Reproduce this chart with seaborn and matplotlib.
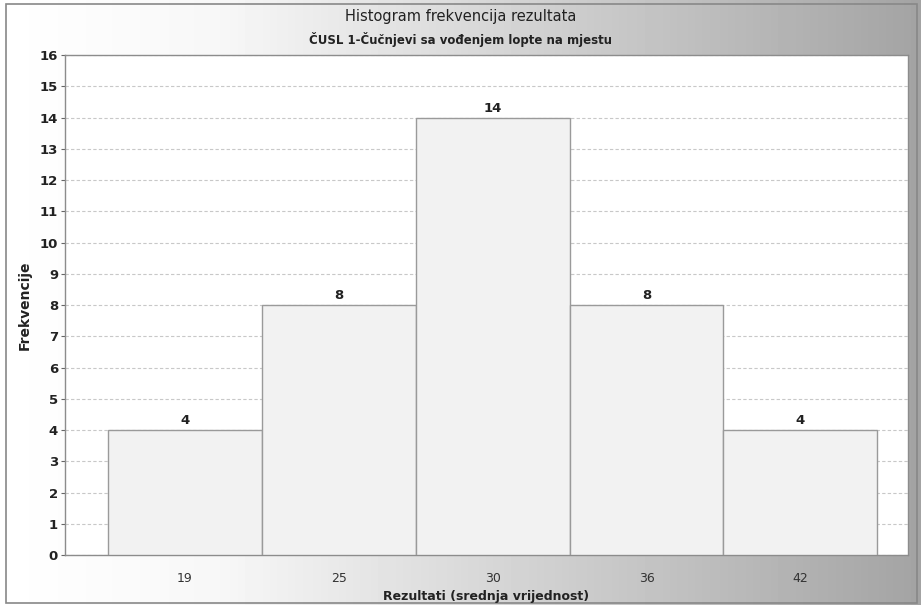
import numpy as np
import pandas as pd
import matplotlib
matplotlib.use("Agg")
import matplotlib.pyplot as plt
import seaborn as sns
from matplotlib.patches import Rectangle

categories = ["19", "25", "30", "36", "42"]
frequencies = [4, 8, 14, 8, 4]
y_ticks = list(range(0, 17))

df = pd.DataFrame({"Rezultati": categories, "Frekvencije": frequencies})

sns.set_theme(style="white")
plt.rcParams['font.family'] = ['DejaVu Sans']

fig = plt.figure(figsize=(9.21, 6.05), dpi=100)

# gradient background
bg = fig.add_axes([0, 0, 1, 1], zorder=0)
grad = np.concatenate([np.linspace(1.0, 0.97, 60), np.linspace(0.97, 0.64, 196)])
img = np.tile(grad, (2, 1))
bg.imshow(img, cmap="gray", vmin=0, vmax=1, aspect="auto", extent=[0, 1, 0, 1])
bg.set_xlim(0, 1); bg.set_ylim(0, 1)
bg.axis("off")
bg.add_patch(Rectangle((0.006, 0.004), 0.99, 0.99, fill=False, edgecolor="#888888", lw=1.2))

ax = fig.add_axes([0.0706, 0.0826, 0.9153, 0.8264], zorder=1)
ax.set_facecolor("white")
sns.barplot(data=df, x="Rezultati", y="Frekvencije", ax=ax, width=1.0,
            color="#f2f2f2", edgecolor="#9a9a9a", linewidth=1.0, saturation=1, zorder=3)
ax.set_xlim(-0.78, 4.70)
ax.set_ylim(0, 16)
ax.set_yticks(y_ticks)
ax.yaxis.grid(True, linestyle=(0, (3, 2)), color="#c8c8c8", linewidth=0.8, zorder=0)
ax.set_axisbelow(True)
for s in ax.spines.values():
    s.set_color("#8c8c8c"); s.set_linewidth(1.0)
ax.tick_params(axis="y", left=True, length=3, width=0.8, color="#666666", pad=2, labelsize=9.5)
ax.tick_params(axis="x", bottom=False, pad=6, labelsize=9, labelcolor="#333333")
for lbl in ax.get_yticklabels():
    lbl.set_fontweight("bold"); lbl.set_color("#222222")

for c in ax.containers:
    ax.bar_label(c, fmt="%d", padding=2, fontsize=9.5, fontweight="bold", color="#222222")

ax.set_xlabel("Rezultati (srednja vrijednost)", fontsize=9, fontweight="bold", color="#222222", labelpad=4)
ax.set_ylabel("Frekvencije", fontsize=10, fontweight="bold", color="#222222", labelpad=6)

fig.text(0.5, 0.972, "Histogram frekvencija rezultata", ha="center", va="center", fontsize=10.5, color="#222222")
fig.text(0.5, 0.934, "ČUSL 1-Čučnjevi sa vođenjem lopte na mjestu", ha="center", va="center",
         fontsize=8.5, fontweight="bold", color="#222222")

fig.savefig("out.png", dpi=100)
